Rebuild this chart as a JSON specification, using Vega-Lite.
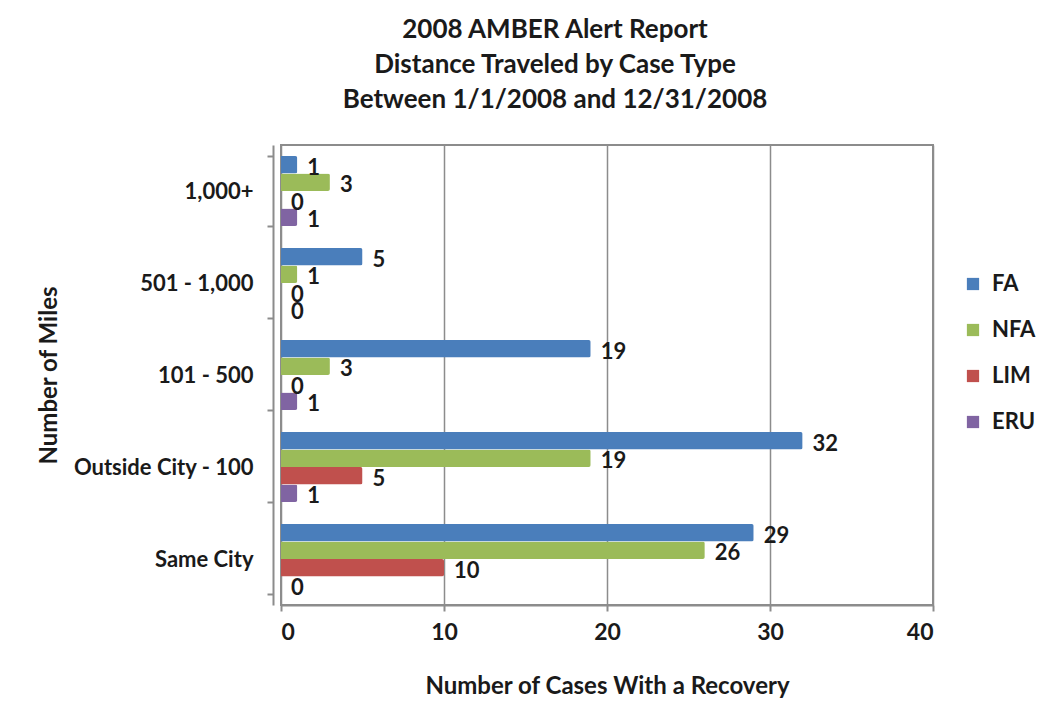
{
  "$schema": "https://vega.github.io/schema/vega-lite/v6.json",
  "autosize": {"type": "none"},
  "width": 652,
  "height": 460,
  "padding": {"left": 281, "top": 145, "right": 117, "bottom": 109},
  "background": "white",
  "config": {
    "font": "Lato",
    "view": {"stroke": "#8c8c8c", "strokeWidth": 2}
  },
  "title": {
    "text": ["2008 AMBER Alert Report", "Distance Traveled by Case Type", "Between 1/1/2008 and 12/31/2008"],
    "fontSize": 26,
    "fontWeight": "bold",
    "font": "Lato",
    "color": "#1a1a1a",
    "lineHeight": 35,
    "anchor": "middle",
    "dx": -52,
    "offset": 21
  },
  "data": {
    "values": [
      {"miles": "1,000+", "series": "FA", "count": 1},
      {"miles": "1,000+", "series": "NFA", "count": 3},
      {"miles": "1,000+", "series": "LIM", "count": 0},
      {"miles": "1,000+", "series": "ERU", "count": 1},
      {"miles": "501 - 1,000", "series": "FA", "count": 5},
      {"miles": "501 - 1,000", "series": "NFA", "count": 1},
      {"miles": "501 - 1,000", "series": "LIM", "count": 0},
      {"miles": "501 - 1,000", "series": "ERU", "count": 0},
      {"miles": "101 - 500", "series": "FA", "count": 19},
      {"miles": "101 - 500", "series": "NFA", "count": 3},
      {"miles": "101 - 500", "series": "LIM", "count": 0},
      {"miles": "101 - 500", "series": "ERU", "count": 1},
      {"miles": "Outside City - 100", "series": "FA", "count": 32},
      {"miles": "Outside City - 100", "series": "NFA", "count": 19},
      {"miles": "Outside City - 100", "series": "LIM", "count": 5},
      {"miles": "Outside City - 100", "series": "ERU", "count": 1},
      {"miles": "Same City", "series": "FA", "count": 29},
      {"miles": "Same City", "series": "NFA", "count": 26},
      {"miles": "Same City", "series": "LIM", "count": 10},
      {"miles": "Same City", "series": "ERU", "count": 0}
    ]
  },
  "encoding": {
    "y": {
      "field": "miles",
      "type": "nominal",
      "sort": ["1,000+", "501 - 1,000", "101 - 500", "Outside City - 100", "Same City"],
      "scale": {"paddingInner": 0.24, "paddingOuter": 0.12},
      "axis": {
        "title": "Number of Miles",
        "titleFontSize": 24,
        "titleFontWeight": "bold",
        "titleColor": "#1a1a1a",
        "titlePadding": 12,
        "labelFontSize": 22,
        "labelFontWeight": "bold",
        "labelColor": "#1a1a1a",
        "labelPadding": 14,
        "labelLimit": 400,
        "offset": 8,
        "domainColor": "#8c8c8c",
        "domainWidth": 2,
        "tickColor": "#8c8c8c",
        "tickWidth": 2,
        "tickBand": "extent",
        "tickSize": 6
      }
    },
    "yOffset": {
      "field": "series",
      "type": "nominal",
      "sort": ["FA", "NFA", "LIM", "ERU"],
      "scale": {"paddingInner": 0, "paddingOuter": 0}
    },
    "x": {
      "field": "count",
      "type": "quantitative",
      "scale": {"domain": [0, 40]},
      "axis": {
        "title": "Number of Cases With a Recovery",
        "titleFontSize": 24,
        "titleFontWeight": "bold",
        "titleColor": "#1a1a1a",
        "titlePadding": 30,
        "labelFontSize": 23,
        "labelFontWeight": "bold",
        "labelColor": "#1a1a1a",
        "labelPadding": 10,
        "values": [0, 10, 20, 30, 40],
        "grid": true,
        "gridColor": "#8c8c8c",
        "gridWidth": 1.5,
        "domainColor": "#8c8c8c",
        "domainWidth": 2,
        "tickColor": "#8c8c8c",
        "tickWidth": 2,
        "tickSize": 6
      }
    }
  },
  "layer": [
    {
      "mark": {"type": "bar", "cornerRadiusEnd": 2, "stroke": null},
      "encoding": {
        "color": {
          "field": "series",
          "type": "nominal",
          "sort": ["FA", "NFA", "LIM", "ERU"],
          "scale": {"domain": ["FA", "NFA", "LIM", "ERU"], "range": ["#4a7ebb", "#9bbb59", "#c0504d", "#8064a2"]},
          "legend": {
            "title": null,
            "orient": "none",
            "legendX": 681,
            "legendY": 128,
            "symbolType": "square",
            "symbolSize": 150,
            "labelFontSize": 22,
            "labelFontWeight": "bold",
            "labelColor": "#1a1a1a",
            "rowPadding": 24,
            "labelOffset": 8
          }
        }
      }
    },
    {
      "mark": {"type": "text", "align": "left", "baseline": "middle", "dx": 10, "dy": 3, "fontSize": 22, "fontWeight": "bold", "color": "#1a1a1a"},
      "encoding": {"text": {"field": "count", "type": "quantitative"}}
    }
  ]
}
